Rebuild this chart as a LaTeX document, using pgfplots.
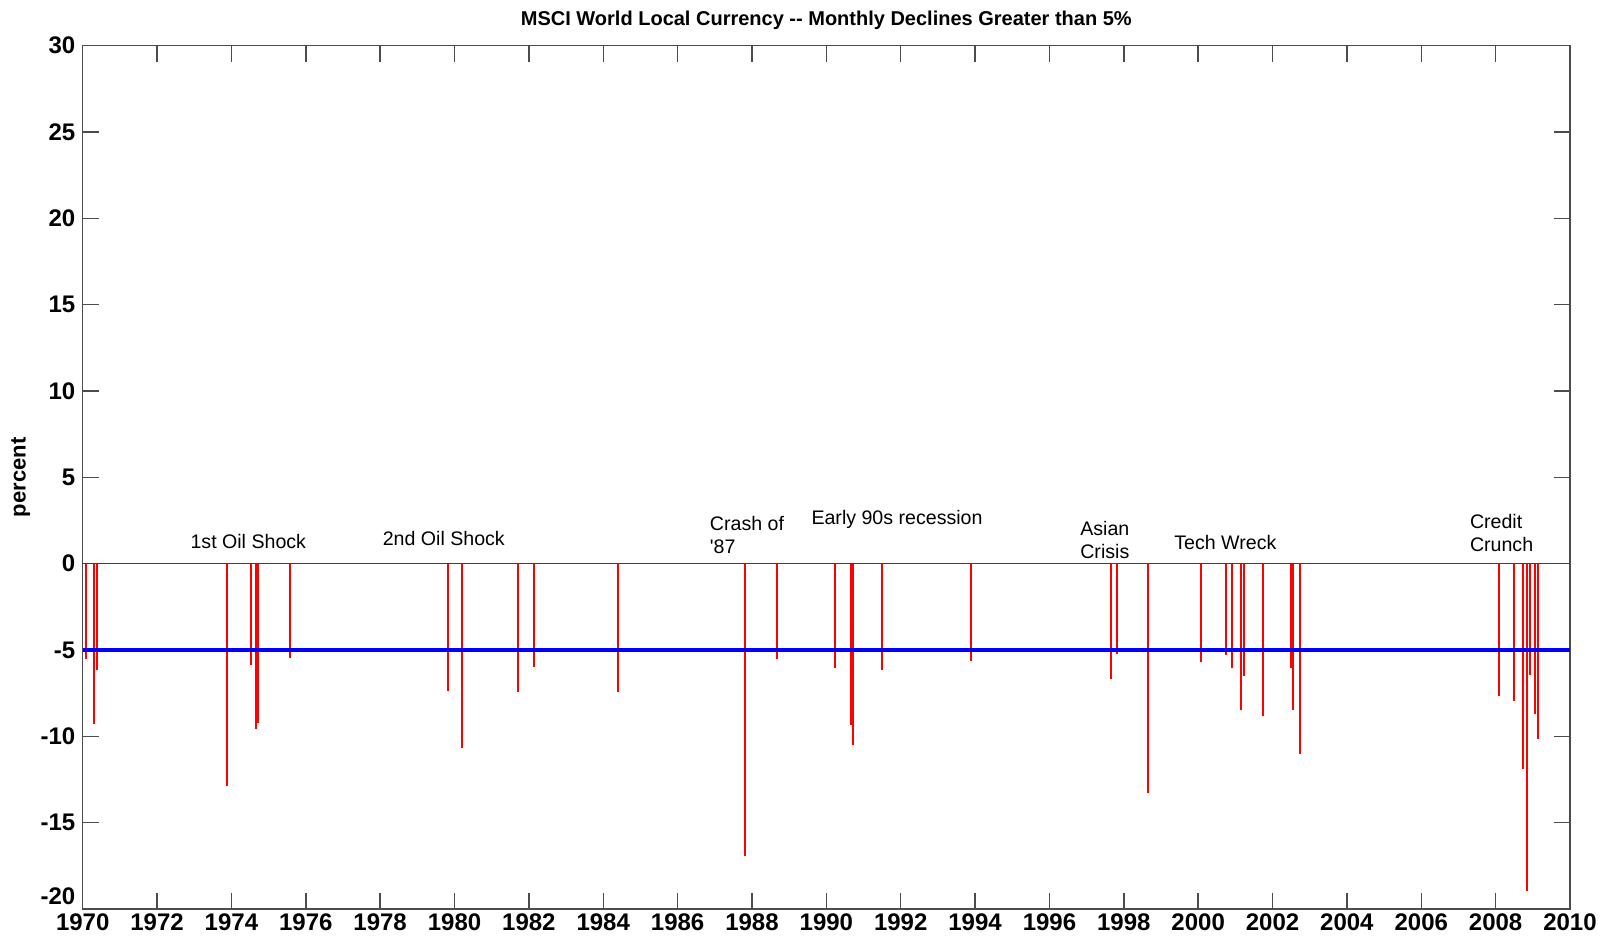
\documentclass[border=0pt]{standalone}
\usepackage{fontspec}
\setmainfont{Liberation Sans}
\usepackage{pgfplots}
\usepackage{pgfplotstable}
\pgfplotsset{compat=1.18}
\pgfplotstableread{
year value
1970.08 -5.51
1970.31 -9.27
1970.38 -6.18
1973.89 -12.89
1974.53 -5.84
1974.65 -9.56
1974.71 -9.23
1975.58 -5.45
1979.82 -7.36
1980.20 -10.65
1981.72 -7.44
1982.15 -5.99
1984.40 -7.44
1987.80 -16.94
1988.67 -5.51
1990.24 -6.05
1990.66 -9.33
1990.72 -10.52
1991.50 -6.18
1993.90 -5.65
1997.65 -6.67
1997.83 -5.22
1998.66 -13.31
2000.08 -5.72
2000.75 -5.30
2000.90 -6.05
2001.15 -8.46
2001.24 -6.53
2001.73 -8.80
2002.50 -6.05
2002.56 -8.46
2002.75 -11.00
2008.10 -7.65
2008.50 -7.98
2008.74 -11.89
2008.83 -18.94
2008.92 -6.42
2009.07 -8.73
2009.15 -10.17
}\declines
\begin{document}
\begin{tikzpicture}
\begin{axis}[
  at={(0,0)}, anchor=south west,
  scale only axis, width=743.65pt, height=431.65pt,
  xmin=1970, xmax=2010, ymin=-20, ymax=30,
  xtick={1970,1972,1974,1976,1978,1980,1982,1984,1986,1988,1990,1992,1994,1996,1998,2000,2002,2004,2006,2008,2010},
  ytick={-15,-10,-5,0,5,10,15,20,25,30},
  extra y ticks={-20},
  extra y tick style={yticklabel style={yshift=6.5pt}},
  /pgf/number format/1000 sep={},
  /pgf/number format/assume math mode=true,
  tick align=inside,
  major tick length=8pt,
  axis line style={black!70, line width=0.75pt},
  tick style={black!70, line width=0.75pt},
  ticklabel style={font=\fontsize{12}{12}\selectfont\bfseries},
  xticklabel style={inner sep=0pt, yshift=-2pt},
  yticklabel style={inner sep=3.5pt},
  title={MSCI World Local Currency {-}{-} Monthly Declines Greater than 5\%},
  every axis title/.style={at={(0.5,1)}, anchor=center, yshift=12.6pt, font=\fontsize{10}{12}\selectfont\bfseries},
  ylabel={percent},
  every axis y label/.style={at={(0,0.5)}, xshift=-31pt, rotate=90, anchor=center, font=\fontsize{11}{12}\selectfont\bfseries},
  clip=false,
]
\addplot[black!75, line width=0.7pt, mark=none] coordinates {(1970,0) (2010,0)};
\addplot[ycomb, red, line width=1pt, mark=none] table[x=year, y=value] {\declines};
\addplot[blue, line width=1.8pt, mark=none] coordinates {(1970,-5) (2010,-5)};
\begin{scope}[every node/.style={anchor=west, inner sep=0pt, align=left, font=\fontsize{9.8}{11.3}\selectfont}]
\node at (axis cs:1972.89,1.29) {1st Oil Shock};
\node at (axis cs:1978.06,1.47) {2nd Oil Shock};
\node at (axis cs:1986.86,1.67) {Crash of\\\textquotesingle 87};
\node at (axis cs:1989.59,2.54) {Early 90s recession};
\node at (axis cs:1996.82,1.38) {Asian\\Crisis};
\node at (axis cs:1999.35,1.23) {Tech Wreck};
\node at (axis cs:2007.30,1.77) {Credit\\Crunch};
\end{scope}
\end{axis}
\pgfresetboundingbox
\path[use as bounding box] (-41.35pt,-16pt) rectangle (762.65pt,454.5pt);
\end{tikzpicture}
\end{document}
